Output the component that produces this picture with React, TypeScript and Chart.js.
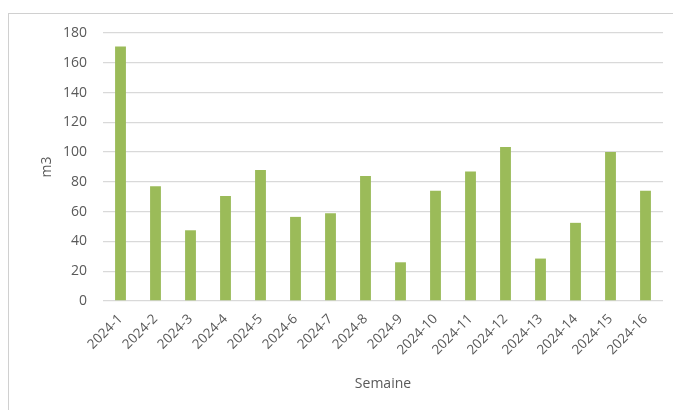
import React, { useEffect, useRef } from "react";
import { Chart, registerables } from "chart.js";

Chart.register(...registerables);

const weeks = [
  "2024-1", "2024-2", "2024-3", "2024-4", "2024-5", "2024-6", "2024-7", "2024-8",
  "2024-9", "2024-10", "2024-11", "2024-12", "2024-13", "2024-14", "2024-15", "2024-16",
];
const volumes = [171, 77, 47.5, 70.5, 88, 56.5, 59, 84, 26, 74, 87, 103.5, 28.5, 52.5, 100, 74];
const yTicks = [0, 20, 40, 60, 80, 100, 120, 140, 160, 180];

const FONT = "'Open Sans', 'Noto Sans', sans-serif";
const TEXT = "#595959";

export default function App() {
  const ref = useRef<HTMLCanvasElement | null>(null);

  useEffect(() => {
    if (!ref.current) return;
    const chart = new Chart(ref.current, {
      type: "bar",
      data: {
        labels: weeks,
        datasets: [
          {
            label: "m3",
            data: volumes,
            backgroundColor: "#9bbb59",
            borderWidth: 0,
            barPercentage: 0.31,
            categoryPercentage: 1,
          },
        ],
      },
      options: {
        responsive: true,
        maintainAspectRatio: false,
        animation: false,
        layout: { padding: { left: 26, right: 10, top: 19, bottom: 14 } },
        plugins: {
          legend: { display: false },
          tooltip: { enabled: false },
        },
        scales: {
          x: {
            grid: { display: false },
            border: { display: false },
            ticks: {
              color: TEXT,
              font: { family: FONT, size: 13.5 },
              minRotation: 45,
              maxRotation: 45,
              autoSkip: false,
              padding: 2,
            },
            title: {
              display: true,
              text: "Semaine",
              color: TEXT,
              font: { family: FONT, size: 14 },
            },
            afterFit: (s: any) => {
              s.height = 95;
            },
          },
          y: {
            min: 0,
            max: 180,
            afterBuildTicks: (s: any) => {
              s.ticks = yTicks.map((v) => ({ value: v }));
            },
            grid: { color: "#d9d9d9", lineWidth: 1.3, drawTicks: false },
            border: { display: false },
            ticks: {
              color: TEXT,
              font: { family: FONT, size: 14 },
              padding: 16,
            },
            title: {
              display: true,
              text: "m3",
              color: TEXT,
              font: { family: FONT, size: 14 },
            },
            afterFit: (s: any) => {
              s.width = 68;
              s.paddingTop = 9;
              s.paddingBottom = 9;
            },
          },
        },
      },
    });
    return () => chart.destroy();
  }, []);

  return (
    <div
      style={{
        position: "fixed",
        left: 8,
        top: 13,
        width: 665,
        height: 397,
        borderTop: "1px solid #d0d0d0",
        borderLeft: "1px solid #d0d0d0",
        boxSizing: "border-box",
        background: "#fff",
      }}
    >
      <div style={{ position: "relative", width: "100%", height: "100%" }}>
        <canvas ref={ref} />
      </div>
    </div>
  );
}
